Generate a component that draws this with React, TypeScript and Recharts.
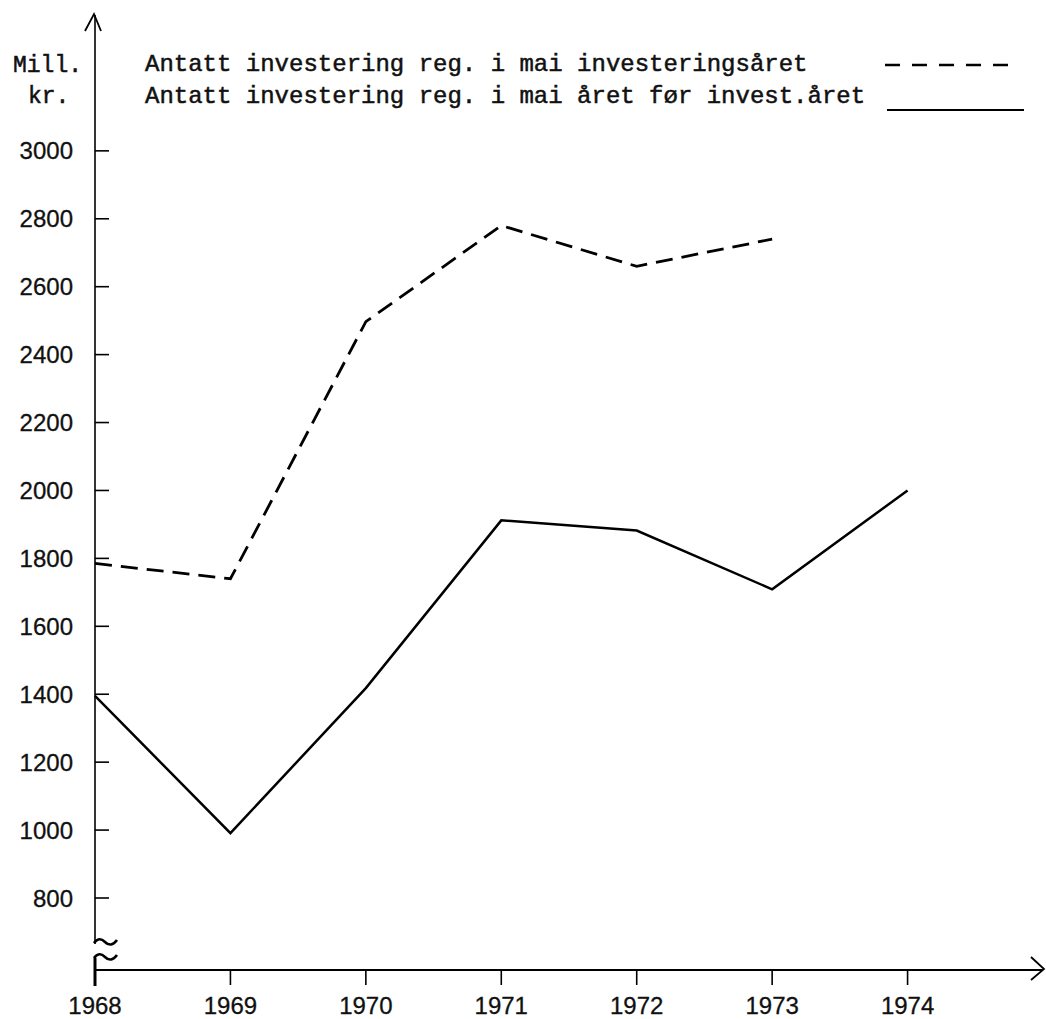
import { LineChart, Line, XAxis, YAxis } from 'recharts'

const years = [1968, 1969, 1970, 1971, 1972, 1973, 1974]
// registrert i mai investeringsåret (no value for 1974)
const regInvestYear = [1785, 1740, 2497, 2780, 2660, 2740, null]
// registrert i mai året før investeringsåret
const regYearBefore = [1395, 991, 1418, 1912, 1882, 1709, 2000]
const yTicks = [800, 1000, 1200, 1400, 1600, 1800, 2000, 2200, 2400, 2600, 2800, 3000]

const legendLabels = [
    'Antatt investering reg. i mai investeringsåret',
    'Antatt investering reg. i mai året før invest.året'
]

const data = years.map((year, i) => ({
    year,
    investYear: regInvestYear[i],
    yearBefore: regYearBefore[i]
}))

const W = 1046
const H = 1019
const LABEL_FONT = '"Liberation Sans", Arial, sans-serif'
const TYPE_FONT = '"Liberation Mono", "Courier New", monospace'

function YTick(props: any) {
    const { x, y, payload } = props
    return (
        <g>
            <line x1={x} x2={x + 14} y1={y} y2={y} stroke="#000" strokeWidth={1.6} />
            <text
                x={x - 22}
                y={y}
                dy="0.36em"
                textAnchor="end"
                fontFamily={LABEL_FONT}
                fontSize={24}
                fill="#111"
                stroke="#111"
                strokeWidth={0.3}
            >
                {payload.value}
            </text>
        </g>
    )
}

function Overlay() {
    const typeStyle = { fontFamily: TYPE_FONT, fill: '#111', stroke: '#111', strokeWidth: 0.5 }
    return (
        <svg width={W} height={H} style={{ position: 'absolute', left: 0, top: 0, pointerEvents: 'none' }}>
            {/* arrow heads */}
            <polyline points="85,31 94,14 101,31" fill="none" stroke="#000" strokeWidth={1.8} />
            <polyline points="1031,957 1044,969 1031,980" fill="none" stroke="#000" strokeWidth={1.8} />
            {/* axis break */}
            <rect x={90} y={944} width={10} height={13} fill="#fff" />
            <path d="M94,943 q5,-7 11,-1 t12,-2" fill="none" stroke="#000" strokeWidth={2.6} />
            <path d="M94,958 q5,-7 11,-1 t12,-2" fill="none" stroke="#000" strokeWidth={2.6} />
            <line x1={95} x2={95} y1={958} y2={986} stroke="#000" strokeWidth={3} />
            {/* unit */}
            <text x={13} y={72} fontSize={23} {...typeStyle}>Mill.</text>
            <text x={28} y={103} fontSize={23} {...typeStyle}>kr.</text>
            {/* legend */}
            <text x={145} y={71} fontSize={24} {...typeStyle}>{legendLabels[0]}</text>
            <text x={145} y={103} fontSize={24} {...typeStyle}>{legendLabels[1]}</text>
            <line x1={885} x2={1020} y1={65} y2={65} stroke="#000" strokeWidth={2.5} strokeDasharray="15 12" />
            <line x1={887} x2={1024} y1={110} y2={110} stroke="#000" strokeWidth={2.2} />
        </svg>
    )
}

export default function App() {
    return (
        <div style={{ position: 'absolute', left: 0, top: 0, width: W, height: H, background: '#fff' }}>
            <LineChart width={W} height={H} data={data} margin={{ top: 15, right: 3, bottom: 0, left: 0 }}>
                <XAxis
                    dataKey="year"
                    type="number"
                    domain={[1968, 1975]}
                    ticks={years}
                    height={49}
                    tickSize={15}
                    tickMargin={12}
                    axisLine={{ stroke: '#000', strokeWidth: 2 }}
                    tickLine={{ stroke: '#000', strokeWidth: 1.6 }}
                    tick={{ fontFamily: LABEL_FONT, fontSize: 24, fill: '#111', stroke: '#111', strokeWidth: 0.3 }}
                    allowDecimals={false}
                />
                <YAxis
                    type="number"
                    domain={[588, 3400]}
                    ticks={yTicks}
                    width={95}
                    tickSize={0}
                    tickMargin={0}
                    tickLine={false}
                    axisLine={{ stroke: '#000', strokeWidth: 1.6 }}
                    tick={<YTick />}
                    allowDataOverflow
                />
                <Line
                    type="linear"
                    dataKey="investYear"
                    stroke="#000"
                    strokeWidth={2.8}
                    strokeDasharray="17 9"
                    dot={false}
                    activeDot={false}
                    isAnimationActive={false}
                />
                <Line
                    type="linear"
                    dataKey="yearBefore"
                    stroke="#000"
                    strokeWidth={2.5}
                    dot={false}
                    activeDot={false}
                    isAnimationActive={false}
                />
            </LineChart>
            <Overlay />
        </div>
    )
}
